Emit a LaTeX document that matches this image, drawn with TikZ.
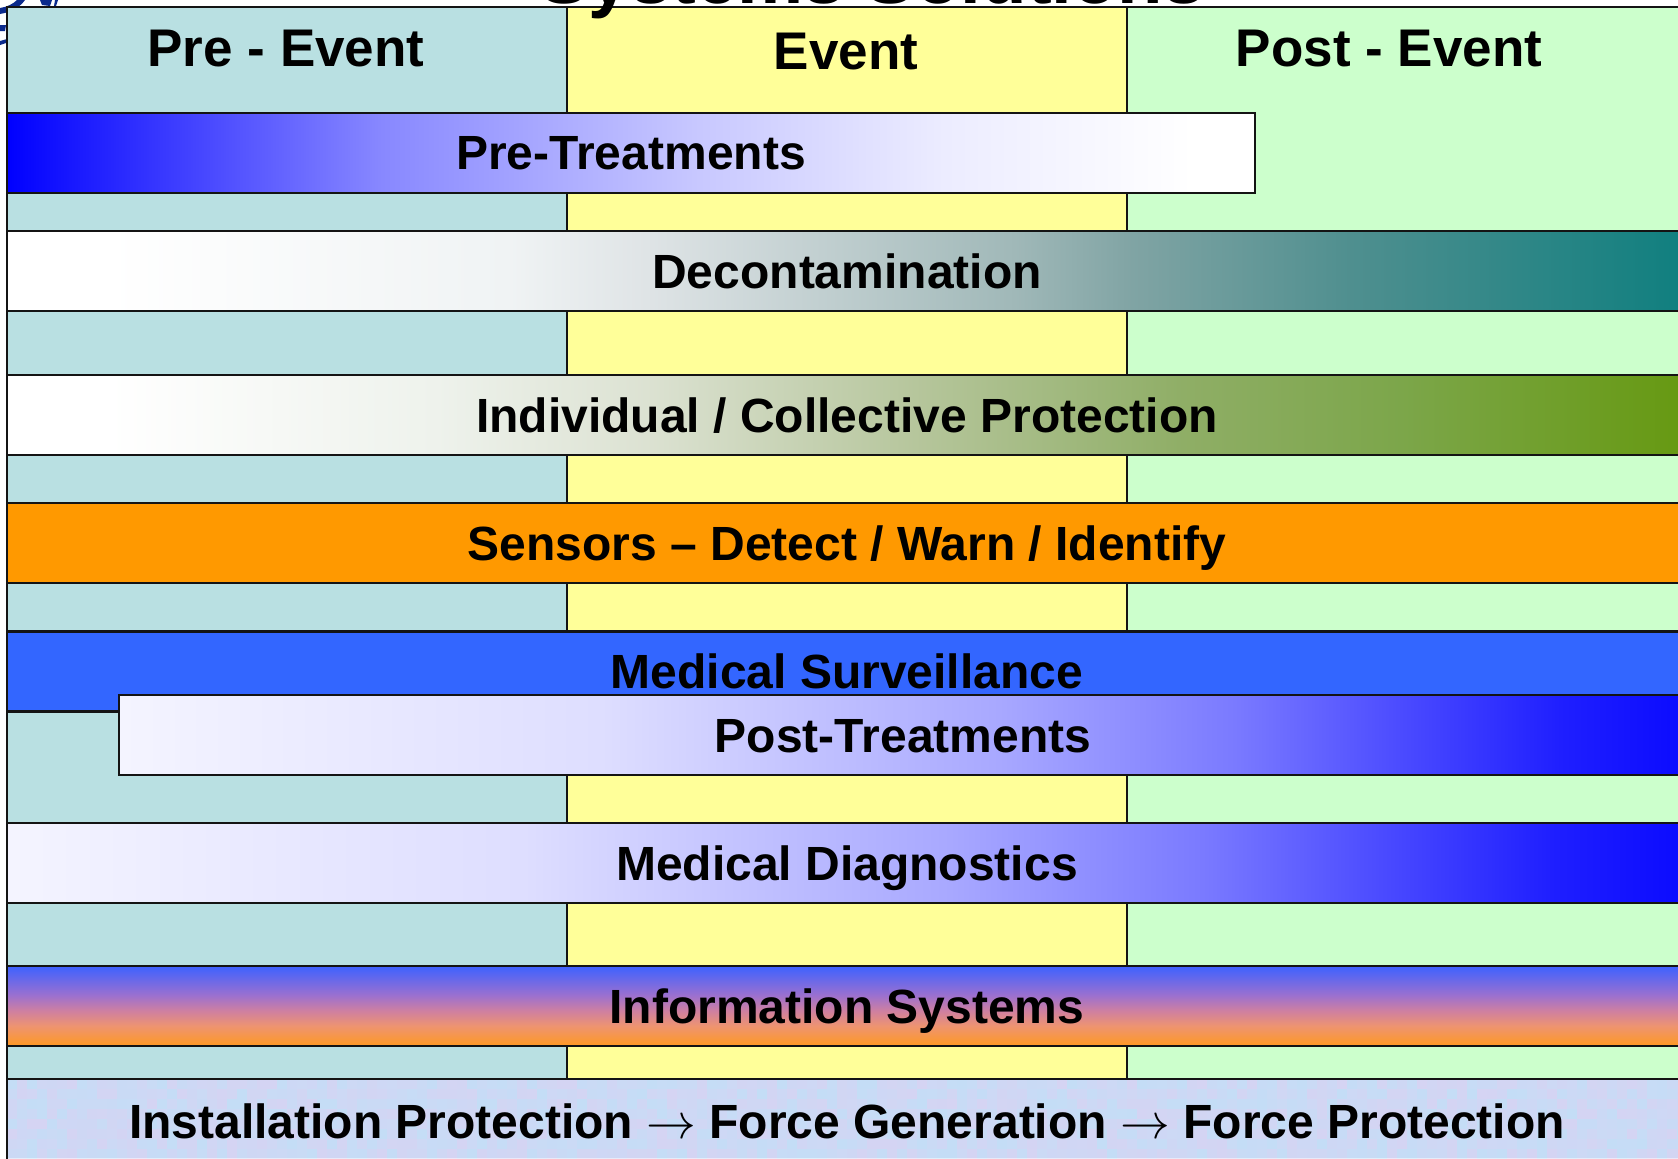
\documentclass[tikz,border=0pt]{standalone}
\usepackage{fontspec}
\setmainfont{Liberation Sans}
\usepackage{tikz}
\definecolor{colpre}{HTML}{B9E0E2}
\definecolor{colevt}{HTML}{FFFF99}
\definecolor{colpost}{HTML}{CCFFCC}
\definecolor{medblue}{HTML}{3366FF}
\definecolor{sensor}{HTML}{FF9900}
\definecolor{linedark}{HTML}{141414}
\definecolor{logoblue}{HTML}{0B2A8C}
\definecolor{bandblue}{HTML}{BCE2F8}
\definecolor{bandlilac}{HTML}{DDD0F2}
\pgfdeclarehorizontalshading{pretreat}{100bp}{color(0bp)=(blue); color(25bp)=(blue);
  rgb(40bp)=(0.533,0.533,1); rgb(52.7bp)=(0.784,0.784,1); rgb(62.5bp)=(0.925,0.925,1);
  color(72.5bp)=(white); color(100bp)=(white)}
\pgfdeclarehorizontalshading{decon}{100bp}{color(0bp)=(white); color(28bp)=(white);
  rgb(40bp)=(0.94,0.953,0.957); rgb(44bp)=(0.875,0.894,0.902); rgb(55bp)=(0.627,0.722,0.722);
  rgb(58.5bp)=(0.502,0.643,0.643); rgb(65bp)=(0.31,0.561,0.561);
  rgb(75bp)=(0.059,0.498,0.498); rgb(100bp)=(0.059,0.498,0.498)}
\pgfdeclarehorizontalshading{indiv}{100bp}{color(0bp)=(white); color(28bp)=(white);
  rgb(37.8bp)=(0.933,0.949,0.925); rgb(44bp)=(0.863,0.886,0.824); rgb(52bp)=(0.714,0.776,0.612);
  rgb(60bp)=(0.561,0.682,0.4); rgb(66.5bp)=(0.486,0.651,0.29);
  rgb(75bp)=(0.4,0.6,0.067); rgb(100bp)=(0.4,0.6,0.067)}
\pgfdeclarehorizontalshading{fadeblue}{100bp}{rgb(0bp)=(0.957,0.957,1); rgb(25bp)=(0.957,0.957,1);
  rgb(40.4bp)=(0.87,0.87,1); rgb(53bp)=(0.66,0.66,1); rgb(60.6bp)=(0.478,0.478,1);
  rgb(66bp)=(0.29,0.29,1); rgb(71bp)=(0.12,0.12,1);
  rgb(75bp)=(0.04,0.04,1); rgb(100bp)=(0.04,0.04,1)}
\pgfdeclareverticalshading{infosys}{100bp}{rgb(0bp)=(1,0.6,0.133); rgb(25bp)=(1,0.6,0.133);
  rgb(37.5bp)=(0.933,0.58,0.44); rgb(47bp)=(0.81,0.5,0.63); rgb(57bp)=(0.604,0.44,0.816);
  rgb(75bp)=(0.24,0.384,1); rgb(100bp)=(0.24,0.384,1)}
\tikzset{
phase/.style={draw=linedark, line width=1pt, minimum width=280pt, minimum height=536pt, inner sep=0pt},
bartext/.style={inner sep=0pt, text height=17.2pt, text depth=0pt, font=\fontsize{24}{24}\selectfont\bfseries},
phasetext/.style={bartext, text height=19pt, font=\fontsize{26.5}{26.5}\selectfont\bfseries},
bar/.style={bartext, draw=linedark, line width=1.1pt, minimum height=40pt, minimum width=840pt},
}

\begin{document}
\begin{tikzpicture}[x=0.5pt, y=-0.5pt]
        \useasboundingbox (0,0) rectangle (1678,1158);

        % logo scraps in the corner
        \fill[logoblue] (0,14) .. controls (12,12) and (20,7) .. (25,0) -- (17,0) .. controls (13,4) and (7,7) .. (0,8) -- cycle;
        \fill[logoblue] (40,0) -- (52,0) -- (50,6) -- (42,5) -- cycle;
        \fill[logoblue] (55,0) -- (58,0) -- (56,6) -- (54,6) -- cycle;
        \fill[logoblue] (0,25) -- (6,25) -- (5,31) -- (0,31) -- cycle;
        \fill[logoblue] (0,41) -- (7,39) -- (6,43) -- (0,45) -- cycle;

        \node[phase, fill=colpre] (pre) at (287,543) {};
        \node[phase, fill=colevt] (evt) at (847,543) {};
        \node[phase, fill=colpost] (post) at (1407,543) {};

        \node[anchor=base, inner sep=0pt, font=\fontsize{37.2}{37.2}\selectfont\bfseries] (title) at (872,3) {Systems Solutions};
        \node[phasetext] (prehead) at (286,47.5) {Pre - Event};
        \node[phasetext] (evthead) at (846,50) {Event};
        \node[phasetext] (posthead) at (1389,47.5) {Post - Event};

        \node[bar, shading=pretreat, minimum width=624pt] (pretreat) at (631,152.7) {Pre-Treatments};
        \node[bar, shading=decon] (decon) at (847,271) {Decontamination};
        \node[bar, shading=indiv] (indiv) at (847,415) {Individual / Collective Protection};
        \node[bar, fill=sensor] (sensors) at (847,543) {Sensors -- Detect / Warn / Identify};
        \node[bar, fill=medblue] (surv) at (847,671.5) {Medical Surveillance};
        \node[bar, shading=fadeblue, minimum width=784pt] (posttreat) at (903,735) {Post-Treatments};
        \node[bar, shading=fadeblue] (diag) at (847,863) {Medical Diagnostics};
        \node[bar, shading=infosys] (info) at (847,1006) {Information Systems};

        % mottled paper at the bottom
        \pgfmathsetseed{41}
        \begin{scope}
        \clip (7,1079) rectangle (1678,1158);
        \fill[bandblue!50!bandlilac] (7,1079) rectangle (1678,1158);
        \foreach \i in {0,...,167}{
          \foreach \j in {0,...,7}{
            \pgfmathsetmacro{\mix}{random(0,100)}
            \fill[bandblue!\mix!bandlilac, opacity=0.5] (7+\i*10,1079+\j*10) rectangle ++(10,10);
          }
        }
        \end{scope}
        \node[bar, minimum height=42pt] (band) at (847,1121) {Installation Protection $\rightarrow$ Force Generation $\rightarrow$ Force Protection};
      \end{tikzpicture}
\end{document}
